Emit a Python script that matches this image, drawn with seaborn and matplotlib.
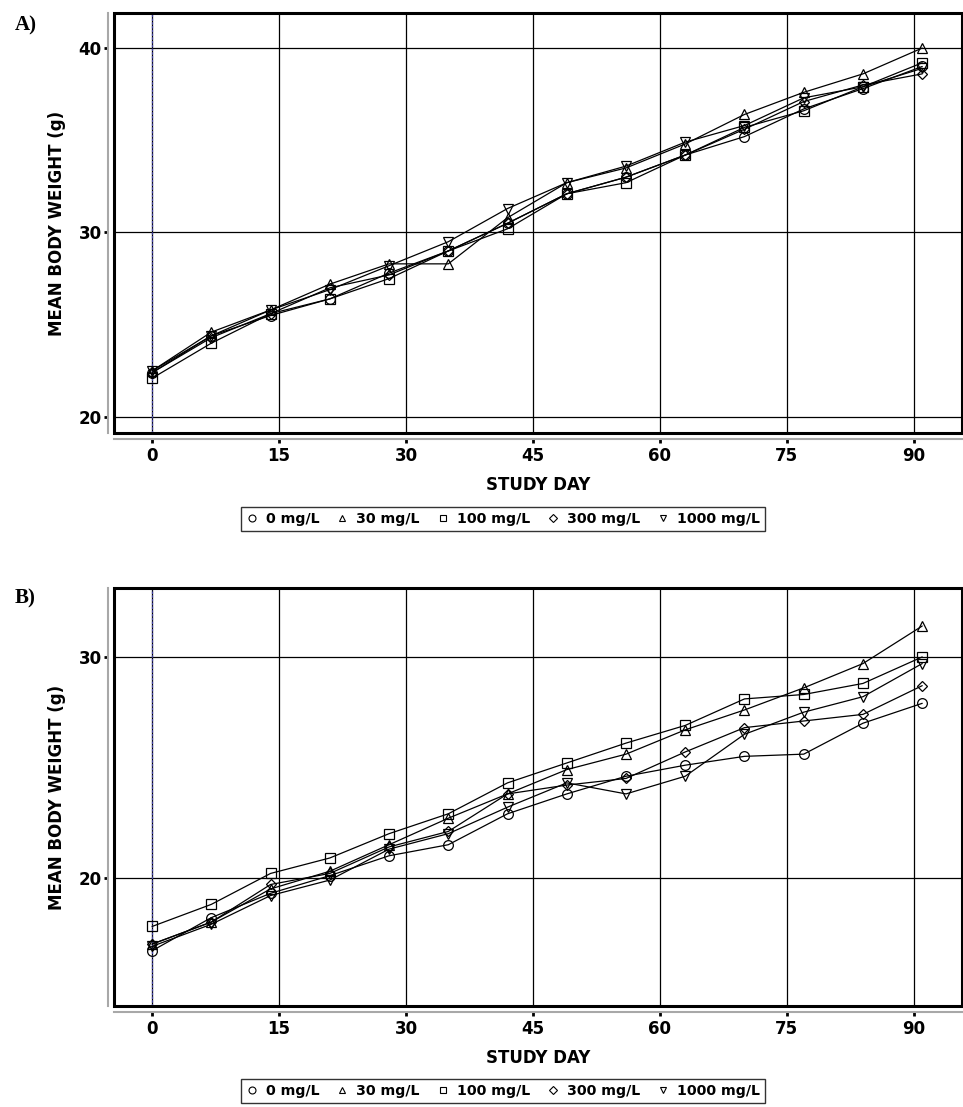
import numpy as np
import pandas as pd
import seaborn as sns
import matplotlib.pyplot as plt
from matplotlib.lines import Line2D
from matplotlib.patches import Rectangle

days = [0, 7, 14, 21, 28, 35, 42, 49, 56, 63, 70, 77, 84, 91]
doses = ['0 mg/L', '30 mg/L', '100 mg/L', '300 mg/L', '1000 mg/L']
dose_markers = ['o', '^', 's', 'D', 'v']

# panel A - mean body weight (g)
a_0 = [22.4, 24.4, 25.5, 26.4, 27.8, 29.0, 30.5, 32.1, 33.0, 34.2, 35.2, 36.7, 37.8, 39.0]
a_30 = [22.5, 24.6, 25.8, 27.2, 28.3, 28.3, 30.8, 32.7, 33.5, 34.8, 36.4, 37.6, 38.6, 40.0]
a_100 = [22.1, 24.0, 25.6, 26.4, 27.5, 29.0, 30.2, 32.1, 32.7, 34.2, 35.7, 36.6, 37.9, 39.2]
a_300 = [22.4, 24.3, 25.6, 27.0, 27.7, 29.0, 30.5, 32.1, 33.0, 34.2, 35.6, 37.1, 38.0, 38.6]
a_1000 = [22.5, 24.4, 25.8, 26.9, 28.2, 29.5, 31.3, 32.7, 33.6, 34.9, 35.8, 37.3, 37.9, 38.9]

# panel B - mean body weight (g)
b_0 = [16.7, 18.2, 19.3, 20.1, 21.0, 21.5, 22.9, 23.8, 24.6, 25.1, 25.5, 25.6, 27.0, 27.9]
b_30 = [17.0, 18.0, 19.5, 20.3, 21.5, 22.7, 23.8, 24.9, 25.6, 26.7, 27.6, 28.6, 29.7, 31.4]
b_100 = [17.8, 18.8, 20.2, 20.9, 22.0, 22.9, 24.3, 25.2, 26.1, 26.9, 28.1, 28.3, 28.8, 30.0]
b_300 = [17.0, 18.0, 19.7, 20.2, 21.4, 22.1, 23.8, 24.2, 24.5, 25.7, 26.8, 27.1, 27.4, 28.7]
b_1000 = [16.9, 17.9, 19.2, 19.9, 21.3, 22.0, 23.2, 24.3, 23.8, 24.6, 26.5, 27.5, 28.2, 29.7]


def to_long(series):
    frames = []
    for dose, vals in zip(doses, series):
        frames.append(pd.DataFrame({'day': days, 'weight': vals, 'dose': dose}))
    return pd.concat(frames, ignore_index=True)


sns.set_theme(style='white')
plt.rcParams['font.family'] = ['DejaVu Sans']
plt.rcParams['text.color'] = 'black'
plt.rcParams['axes.labelcolor'] = 'black'
plt.rcParams['xtick.color'] = 'black'
plt.rcParams['ytick.color'] = 'black'

W, H = 963, 1107
fig = plt.figure(figsize=(W / 100, H / 100), dpi=100)

panels = [
    (to_long([a_0, a_30, a_100, a_300, a_1000]), 13, 433, (19.13, 41.9), [20, 30, 40], 'A)', 25, 519),
    (to_long([b_0, b_30, b_100, b_300, b_1000]), 588, 1006, (14.2, 33.12), [20, 30], 'B)', 598, 1091),
]

for df, top, bot, ylim, yticks, tag, tag_y, leg_y in panels:
    ax = fig.add_axes([114 / W, 1 - bot / H, 848 / W, (bot - top) / H])
    sns.lineplot(data=df, x='day', y='weight', style='dose', style_order=doses,
                 markers=dict(zip(doses, dose_markers)), dashes=False, color='black',
                 linewidth=0.9, markersize=7, markerfacecolor='none',
                 markeredgecolor='black', markeredgewidth=0.9, legend=False, ax=ax)
    # diamonds look smaller in the original
    for ln in ax.lines:
        if ln.get_marker() == 'D':
            ln.set_markersize(5)

    ax.set_xlim(-4.5, 95.7)
    ax.set_ylim(*ylim)
    ax.set_xticks(range(0, 91, 15))
    ax.set_yticks(yticks)
    ax.grid(True, color='black', linewidth=0.9)
    ax.get_xgridlines()[0].set_visible(False)
    ax.axvline(0, color='#4040a0', linewidth=0.9, linestyle=(0, (2, 1)), zorder=1)
    ax.set_axisbelow(True)

    # SAS style: grey offset axis lines plus a heavy frame
    for side in ['top', 'right']:
        ax.spines[side].set_visible(False)
    for side in ['left', 'bottom']:
        ax.spines[side].set_position(('outward', 4))
        ax.spines[side].set_color('#a8a8a8')
        ax.spines[side].set_linewidth(1.5)
    ax.add_patch(Rectangle((0, 0), 1, 1, transform=ax.transAxes, fill=False,
                           edgecolor='black', linewidth=2.2, clip_on=False, zorder=5))

    ax.tick_params(axis='both', direction='out', length=3, width=2, color='black',
                   labelsize=12, pad=3, bottom=True, left=True)
    ax.tick_params(axis='y', pad=2)
    for lab in ax.get_xticklabels() + ax.get_yticklabels():
        lab.set_fontweight('bold')
    ax.set_xlabel('STUDY DAY', fontsize=12, fontweight='bold', labelpad=8)
    ax.set_ylabel('MEAN BODY WEIGHT (g)', fontsize=12, fontweight='bold', labelpad=9)

    fig.text(15 / W, 1 - tag_y / H, tag, family='Liberation Serif', fontweight='bold',
             fontsize=15, va='center', ha='left')

    handles = [Line2D([], [], linestyle='none', marker=m, markersize=4 if m == 'D' else 5,
                      markerfacecolor='none', markeredgecolor='black', markeredgewidth=0.8)
               for m in dose_markers]
    leg = fig.legend(handles, doses, loc='center', bbox_to_anchor=(503 / W, 1 - leg_y / H),
                     ncol=5, frameon=True, fancybox=False, handlelength=0.8,
                     handletextpad=0.6, columnspacing=1.2, borderpad=0.35,
                     prop={'weight': 'bold', 'size': 10.2})
    leg.get_frame().set_edgecolor('black')
    leg.get_frame().set_linewidth(1.0)

fig.savefig('out.png', dpi=100)
